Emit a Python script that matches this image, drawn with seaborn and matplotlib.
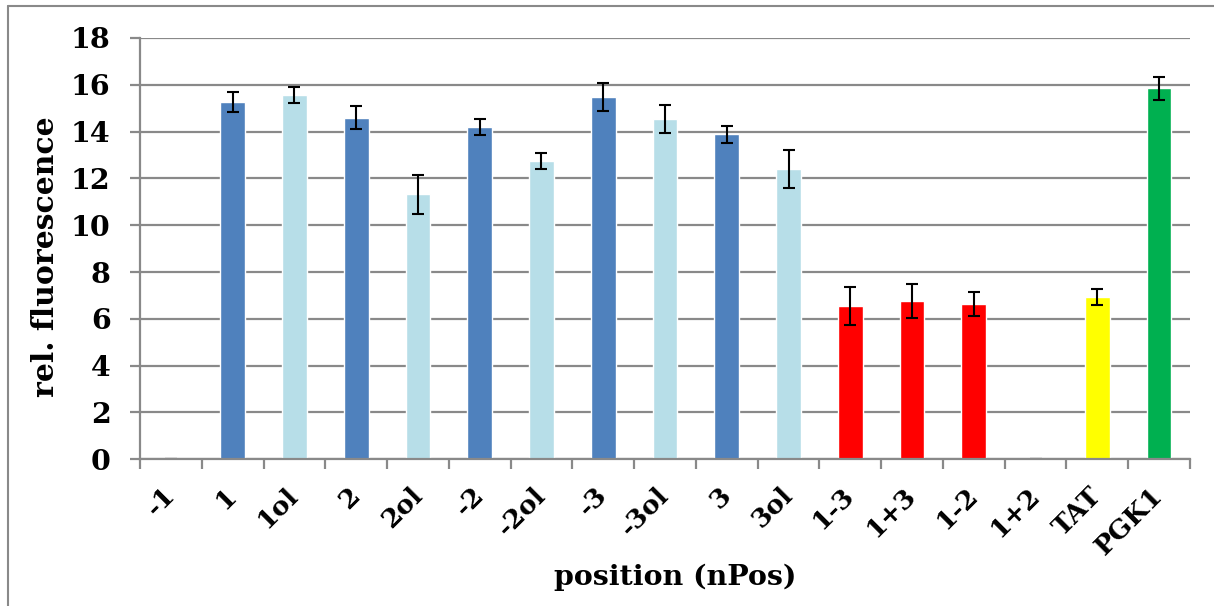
import matplotlib
matplotlib.use("Agg")
import matplotlib.pyplot as plt
from matplotlib.lines import Line2D
from matplotlib.ticker import FixedLocator
import seaborn as sns
import pandas as pd
import numpy as np

categories = ["-1", "1", "1ol", "2", "2ol", "-2", "-2ol", "-3", "-3ol", "3", "3ol",
              "1-3", "1+3", "1-2", "1+2", "TAT", "PGK1"]
values = [0.0, 15.28, 15.56, 14.6, 11.33, 14.2, 12.74, 15.48, 14.54, 13.88, 12.4,
          6.55, 6.76, 6.63, 0.0, 6.93, 15.86]
errors = [0.0, 0.43, 0.35, 0.5, 0.83, 0.35, 0.34, 0.59, 0.6, 0.37, 0.83,
          0.82, 0.74, 0.5, 0.0, 0.33, 0.49]
colors = ["#4F81BD", "#4F81BD", "#B7DEE8", "#4F81BD", "#B7DEE8", "#4F81BD", "#B7DEE8",
          "#4F81BD", "#B7DEE8", "#4F81BD", "#B7DEE8", "#FF0000", "#FF0000", "#FF0000",
          "#FF0000", "#FFFF00", "#00B050"]
yticks = [0, 2, 4, 6, 8, 10, 12, 14, 16, 18]

sns.set_theme(style="white")
plt.rcParams["font.family"] = ["DejaVu Serif"]
plt.rcParams["font.weight"] = "bold"
plt.rcParams["text.color"] = "black"
plt.rcParams["axes.labelcolor"] = "black"
plt.rcParams["xtick.labelcolor"] = "black"
plt.rcParams["ytick.labelcolor"] = "black"

df = pd.DataFrame({"position": categories, "value": values})

W, H = 1214, 606
fig = plt.figure(figsize=(W / 100, H / 100), dpi=100)
ax = fig.add_axes([140 / W, 1 - 459.3 / H, (1190 - 140) / W, (459.3 - 38) / H])

sns.barplot(data=df, x="position", y="value", hue="position", palette=colors,
            order=categories, hue_order=categories, legend=False, errorbar=None,
            width=0.4, saturation=1, ax=ax, zorder=3)
ax.errorbar(np.arange(len(categories)), values, yerr=errors, fmt="none",
            ecolor="black", elinewidth=1.5, capsize=4.5, capthick=1.5, zorder=4)

gray = "#898989"
ax.set_ylim(0, 18)
ax.set_xlim(-0.5, len(categories) - 0.5)
ax.set_yticks(yticks)
ax.yaxis.grid(True, color=gray, linewidth=1.6, zorder=0)
ax.set_axisbelow(True)
for s in ["top", "right"]:
    ax.spines[s].set_visible(False)
for s in ["left", "bottom"]:
    ax.spines[s].set_color(gray)
    ax.spines[s].set_linewidth(1.6)
    ax.spines[s].set_zorder(5)

ax.tick_params(axis="y", which="major", length=7.2, width=1.6, color=gray,
               pad=14, labelsize=20.5, left=True, labelcolor="black")
ax.xaxis.set_minor_locator(FixedLocator(np.arange(-0.5, len(categories), 1.0)))
ax.tick_params(axis="x", which="minor", length=7.2, width=1.6, color=gray, bottom=True)
ax.tick_params(axis="x", which="major", length=0, pad=23, labelsize=19, labelcolor="black")
for lab in ax.get_yticklabels():
    lab.set_fontweight("bold")
for lab in ax.get_xticklabels():
    lab.set_rotation(45)
    lab.set_ha("right")
    lab.set_va("center")
    lab.set_rotation_mode("anchor")
    lab.set_fontweight("bold")

ax.set_xlabel("position (nPos)", fontsize=20.5, fontweight="bold", color="black")
ax.set_ylabel("rel. fluorescence", fontsize=21.5, fontweight="bold", color="black")
ax.xaxis.set_label_coords((675 - 140) / (1190 - 140), -(577 - 459.3) / (459.3 - 38))
ax.xaxis.label.set_va("center")
ax.yaxis.set_label_coords(-(140 - 46) / (1190 - 140), 0.48)
ax.yaxis.label.set_va("center")

# outer chart frame (top and left edges visible)
fig.add_artist(Line2D([8 / W, 1], [1 - 6 / H, 1 - 6 / H], color=gray, linewidth=1.5,
                      transform=fig.transFigure))
fig.add_artist(Line2D([8 / W, 8 / W], [0, 1 - 6 / H], color=gray, linewidth=1.5,
                      transform=fig.transFigure))

fig.savefig("out.png", dpi=100, facecolor="white")
